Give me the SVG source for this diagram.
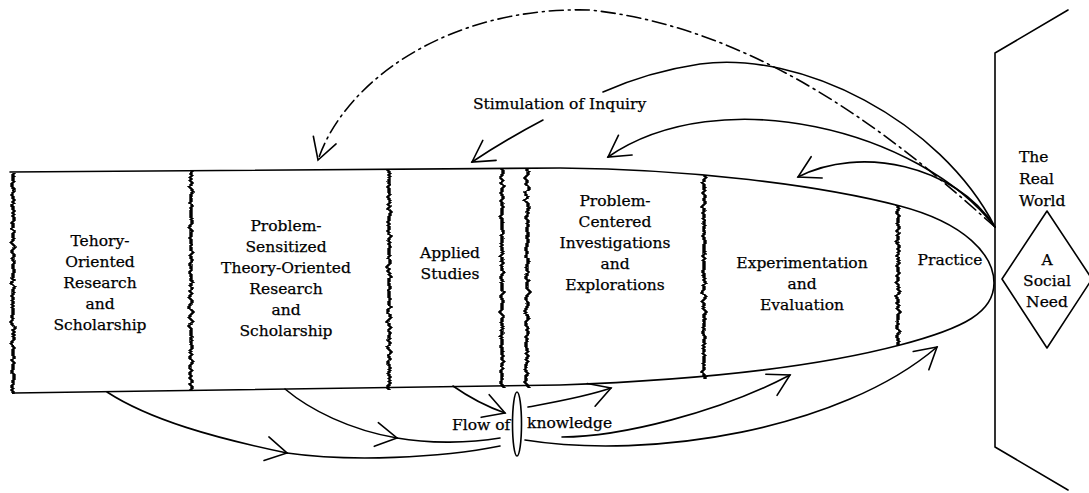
<svg xmlns="http://www.w3.org/2000/svg" width="1089" height="493" viewBox="0 0 1089 493">
<style>
.t{font-family:"DejaVu Serif","Liberation Serif",serif;font-size:15.5px;fill:#000;stroke:#000;stroke-width:0.25;text-anchor:middle}
.l{text-anchor:start}
.ln{fill:none;stroke:#000;stroke-width:1.6;stroke-linecap:round;stroke-linejoin:round}
.dd{stroke-dasharray:14 5 2 5}
.wv{fill:none;stroke:#000;stroke-width:3.4}
</style>
<defs>
<marker id="v" viewBox="-24 -14 26 28" markerWidth="26" markerHeight="28" refX="0" refY="0" orient="auto" markerUnits="userSpaceOnUse">
<path d="M-21,-12 L0,0 L-21,12" fill="none" stroke="#000" stroke-width="1.6" stroke-linecap="round" stroke-linejoin="miter"/>
</marker>
<filter id="rough" filterUnits="userSpaceOnUse" x="0" y="0" width="1089" height="493">
<feTurbulence type="fractalNoise" baseFrequency="0.01 0.2" numOctaves="3" seed="7" result="n"/>
<feDisplacementMap in="SourceGraphic" in2="n" scale="8" xChannelSelector="R" yChannelSelector="A"/>
</filter>
</defs>
<rect width="1089" height="493" fill="#fff"/>

<g id="outline">
<path class="ln" d="M10,172 L560,168 C690,169 820,185 900,206 C965,223 994,255 994,283 C994,312 965,328 900,345 C820,366 700,380 560,385 L14,393"/>
</g>

<g id="dividers" filter="url(#rough)">
<path class="wv" d="M13,172 V393"/>
<path class="wv" d="M191,170 V391"/>
<path class="wv" d="M389,169 V389"/>
<path class="wv" d="M502,169 V387"/>
<path class="wv" d="M527,169 V387"/>
<path class="wv" d="M704,175 V378"/>
<path class="wv" d="M898,207 V345"/>
</g>

<g id="node-theory-oriented">
<text class="t" x="100" y="246">Tehory-</text>
<text class="t" x="100" y="267">Oriented</text>
<text class="t" x="100" y="288">Research</text>
<text class="t" x="100" y="309">and</text>
<text class="t" x="100" y="330">Scholarship</text>
</g>

<g id="node-problem-sensitized">
<text class="t" x="286" y="231">Problem-</text>
<text class="t" x="286" y="252">Sensitized</text>
<text class="t" x="286" y="273">Theory-Oriented</text>
<text class="t" x="286" y="294">Research</text>
<text class="t" x="286" y="315">and</text>
<text class="t" x="286" y="336">Scholarship</text>
</g>

<g id="node-applied">
<text class="t" x="450" y="258">Applied</text>
<text class="t" x="450" y="279">Studies</text>
</g>

<g id="node-problem-centered">
<text class="t" x="615" y="206">Problem-</text>
<text class="t" x="615" y="227">Centered</text>
<text class="t" x="615" y="248">Investigations</text>
<text class="t" x="615" y="269">and</text>
<text class="t" x="615" y="290">Explorations</text>
</g>

<g id="node-experimentation">
<text class="t" x="802" y="268">Experimentation</text>
<text class="t" x="802" y="289">and</text>
<text class="t" x="802" y="310">Evaluation</text>
</g>

<g id="node-practice">
<text class="t" x="950" y="265">Practice</text>
</g>

<g id="node-real-world">
<polyline class="ln" points="1068,10 995,53 995,447 1068,490"/>
<text class="t l" x="1019" y="162">The</text>
<text class="t l" x="1019" y="184">Real</text>
<text class="t l" x="1019" y="206">World</text>
</g>

<g id="node-social-need">
<polygon class="ln" points="1047,211 1092,279 1047,348 1002,279"/>
<text class="t" x="1047" y="265">A</text>
<text class="t" x="1047" y="286">Social</text>
<text class="t" x="1047" y="307">Need</text>
</g>

<g id="node-lens">
<ellipse class="ln" cx="517" cy="424" rx="4.5" ry="32"/>
</g>

<g id="connectors">
<path class="ln dd" marker-end="url(#v)" d="M995,227 C930,170 780,30 590,10 C450,6 345,80 318,160"/>
<path class="ln" d="M995,227 C940,120 800,50 700,64 C660,70 630,80 603,92"/>
<path class="ln" marker-end="url(#v)" d="M543,120 Q505,140 472,162"/>
<path class="ln" marker-end="url(#v)" d="M995,227 C920,130 720,80 608,157"/>
<path class="ln" marker-end="url(#v)" d="M995,227 C955,165 860,145 798,177"/>

<path class="ln" marker-end="url(#v)" d="M107,392 C150,420 215,438 287,453"/>
<path class="ln" d="M287,453 C350,462 440,458 500,446"/>
<path class="ln" marker-end="url(#v)" d="M285,389 C310,410 350,430 397,438"/>
<path class="ln" d="M397,438 C430,444 470,443 500,438"/>
<path class="ln" marker-end="url(#v)" d="M453,386 C470,398 488,407 505,413"/>
<path class="ln" marker-end="url(#v)" d="M528,407 C555,402 585,397 611,388"/>
<path class="ln" marker-end="url(#v)" d="M562,437 C620,437 720,412 790,375"/>
<path class="ln" marker-end="url(#v)" d="M525,440 C650,460 840,430 937,347"/>
</g>

<g id="labels">
<text class="t l" x="473" y="109">Stimulation of Inquiry</text>
<text class="t l" x="452" y="430">Flow of</text>
<text class="t l" x="527" y="428">knowledge</text>
</g>
</svg>
